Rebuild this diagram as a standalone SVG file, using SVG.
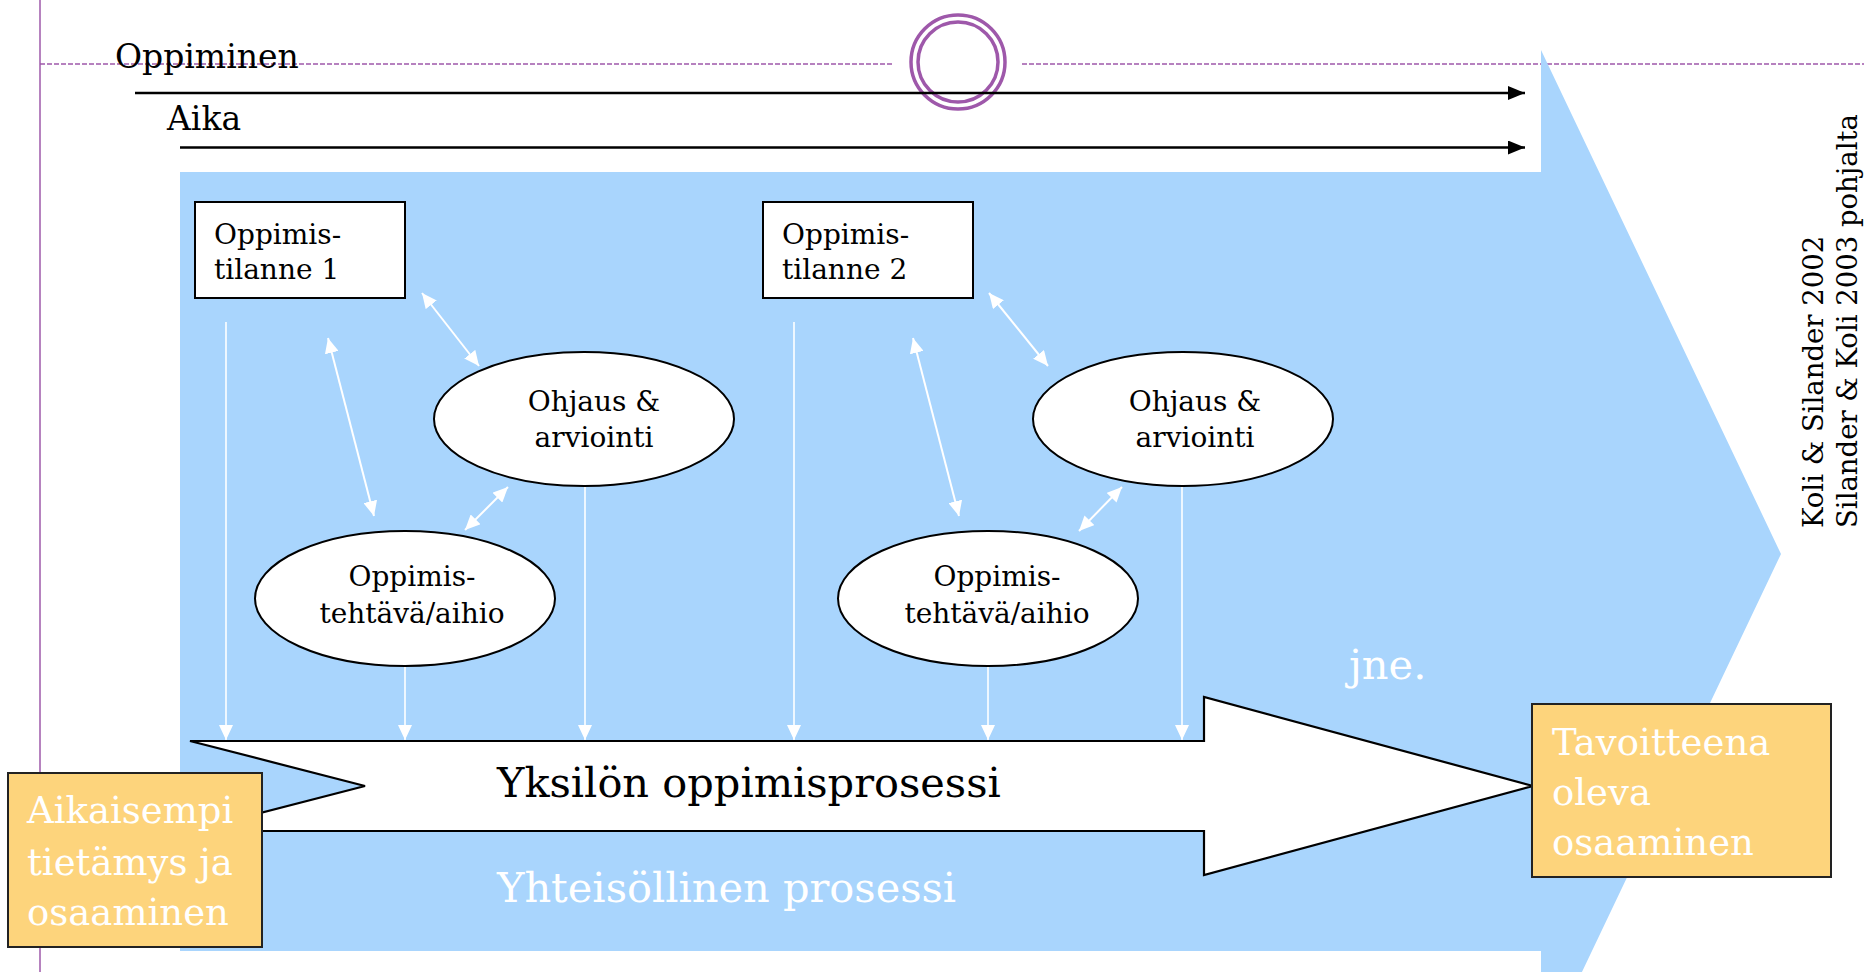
<svg xmlns="http://www.w3.org/2000/svg" width="1864" height="972" viewBox="0 0 1864 972">
<style>
.t{font-family:"DejaVu Serif","Liberation Serif",serif;fill:#000}
.w{fill:#fff}
.node{font-size:28px}
.big{font-size:41.5px}
.ob{font-size:37px}
.box{fill:#fff;stroke:#000;stroke-width:2}
.ell{fill:#fff;stroke:#000;stroke-width:2}
.org{fill:#FDD47C;stroke:#222;stroke-width:2}
.wl{stroke:#fff;stroke-width:1.6;fill:none}
.wd{stroke:#fff;stroke-width:2;fill:none}
.bl{stroke:#000;stroke-width:2.5;fill:none}
.pur{stroke:#9E58AA;fill:none}
</style>
<defs>
<marker id="wh" viewBox="0 0 15 14" refX="15" refY="7" markerWidth="15" markerHeight="14" markerUnits="userSpaceOnUse" orient="auto-start-reverse">
<path d="M0,0 L15,7 L0,14 Z" fill="#fff"/>
</marker>
<marker id="bh" viewBox="0 0 17 14" refX="17" refY="7" markerWidth="17" markerHeight="14" markerUnits="userSpaceOnUse" orient="auto">
<path d="M0,0 L17,7 L0,14 Z" fill="#000"/>
</marker>
</defs>
<rect width="1864" height="972" fill="#fff"/>
<g id="frame">
<line class="pur" x1="40" y1="0" x2="40" y2="972" stroke-width="1.5"/>
<line class="pur" x1="40" y1="64" x2="894" y2="64" stroke-width="1.5" stroke-dasharray="5,2"/>
<line class="pur" x1="1022" y1="64" x2="1864" y2="64" stroke-width="1.5" stroke-dasharray="5,2"/>
</g>
<g id="collective-arrow">
<path d="M180,172 H1541 V50 L1781,554 L1541,1058 V951 H180 Z" fill="#A9D5FD"/>
</g>
<g id="circle">
<circle class="pur" cx="958" cy="62" r="47" stroke-width="3.5"/>
<circle class="pur" cx="958" cy="62" r="40" stroke-width="3.5"/>
</g>
<g id="labels">
<text class="t" x="115" y="68" font-size="33">Oppiminen</text>
<text class="t" x="167" y="130" font-size="33">Aika</text>
<text class="t w big" x="497" y="902">Yhteisöllinen prosessi</text>
<text class="t w big" x="1349" y="679">jne.</text>
<text class="t" font-size="27.5" transform="translate(1823,528) rotate(-90)">Koli &amp; Silander 2002</text>
<text class="t" font-size="27.5" transform="translate(1857,528) rotate(-90)">Silander &amp; Koli 2003 pohjalta</text>
</g>
<g id="connectors">
<line class="bl" x1="135" y1="93" x2="1525" y2="93" marker-end="url(#bh)"/>
<line class="bl" x1="180" y1="147.5" x2="1525" y2="147.5" marker-end="url(#bh)"/>
<line class="wl" x1="226" y1="322" x2="226" y2="740" marker-end="url(#wh)"/>
<line class="wl" x1="405" y1="666" x2="405" y2="740" marker-end="url(#wh)"/>
<line class="wl" x1="585" y1="486" x2="585" y2="740" marker-end="url(#wh)"/>
<line class="wl" x1="794" y1="322" x2="794" y2="740" marker-end="url(#wh)"/>
<line class="wl" x1="988" y1="666" x2="988" y2="740" marker-end="url(#wh)"/>
<line class="wl" x1="1182" y1="486" x2="1182" y2="740" marker-end="url(#wh)"/>
<line class="wd" x1="422" y1="293" x2="479" y2="366" marker-start="url(#wh)" marker-end="url(#wh)"/>
<line class="wd" x1="328" y1="338" x2="374" y2="516" marker-start="url(#wh)" marker-end="url(#wh)"/>
<line class="wd" x1="465" y1="530" x2="508" y2="487" marker-start="url(#wh)" marker-end="url(#wh)"/>
<line class="wd" x1="989" y1="293" x2="1048" y2="366" marker-start="url(#wh)" marker-end="url(#wh)"/>
<line class="wd" x1="913" y1="338" x2="959" y2="516" marker-start="url(#wh)" marker-end="url(#wh)"/>
<line class="wd" x1="1079" y1="531" x2="1122" y2="487" marker-start="url(#wh)" marker-end="url(#wh)"/>
</g>
<g id="tilanne1">
<rect class="box" x="195" y="202" width="210" height="96"/>
<text class="t node" x="214" y="244">Oppimis-</text>
<text class="t node" x="214" y="279">tilanne 1</text>
</g>
<g id="tilanne2">
<rect class="box" x="763" y="202" width="210" height="96"/>
<text class="t node" x="782" y="244">Oppimis-</text>
<text class="t node" x="782" y="279">tilanne 2</text>
</g>
<g id="ohjaus1">
<ellipse class="ell" cx="584" cy="419" rx="150" ry="67"/>
<text class="t node" x="594" y="411" text-anchor="middle">Ohjaus &amp;</text>
<text class="t node" x="594" y="447" text-anchor="middle">arviointi</text>
</g>
<g id="tehtava1">
<ellipse class="ell" cx="405" cy="598.5" rx="150" ry="67.5"/>
<text class="t node" x="412" y="586" text-anchor="middle">Oppimis-</text>
<text class="t node" x="412" y="623" text-anchor="middle">tehtävä/aihio</text>
</g>
<g id="ohjaus2">
<ellipse class="ell" cx="1183" cy="419" rx="150" ry="67"/>
<text class="t node" x="1195" y="411" text-anchor="middle">Ohjaus &amp;</text>
<text class="t node" x="1195" y="447" text-anchor="middle">arviointi</text>
</g>
<g id="tehtava2">
<ellipse class="ell" cx="988" cy="598.5" rx="150" ry="67.5"/>
<text class="t node" x="997" y="586" text-anchor="middle">Oppimis-</text>
<text class="t node" x="997" y="623" text-anchor="middle">tehtävä/aihio</text>
</g>
<g id="yksilo">
<path d="M190,741 H1204 V697 L1533,786 L1204,875 V831 H190 L365,786 Z" fill="#fff" stroke="#000" stroke-width="2.2" stroke-linejoin="miter"/>
<text class="t big" x="497" y="797" font-size="42">Yksilön oppimisprosessi</text>
</g>
<g id="aikaisempi">
<rect class="org" x="8" y="773" width="254" height="174"/>
<text class="t w ob" x="27" y="823">Aikaisempi</text>
<text class="t w ob" x="27" y="875">tietämys ja</text>
<text class="t w ob" x="27" y="925">osaaminen</text>
</g>
<g id="tavoite">
<rect class="org" x="1532" y="704" width="299" height="173"/>
<text class="t w ob" x="1552" y="755">Tavoitteena</text>
<text class="t w ob" x="1552" y="805">oleva</text>
<text class="t w ob" x="1552" y="855">osaaminen</text>
</g>
</svg>
